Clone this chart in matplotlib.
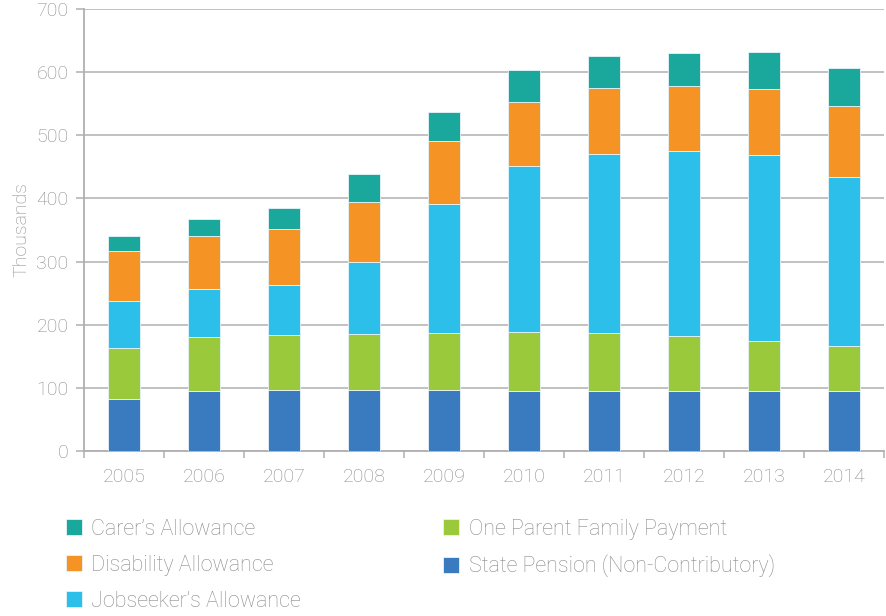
import matplotlib
matplotlib.use("Agg")
import matplotlib.pyplot as plt
import numpy as np

years = ["2005", "2006", "2007", "2008", "2009", "2010", "2011", "2012", "2013", "2014"]
state_pension = [83, 95.5, 97, 97, 97, 95.5, 95.5, 95.5, 95.5, 95.5]
one_parent = [80.5, 84.5, 86, 88, 89.5, 93.5, 91.5, 86.5, 78.5, 70]
jobseekers = [74.5, 77, 80, 114, 205, 262, 283, 293.5, 295, 269]
disability = [78, 83, 89, 95.5, 100, 102, 105, 102, 105, 112.5]
carers = [25, 27, 33.5, 44.5, 46, 51, 50.5, 52.5, 58, 59.5]

series = [
    ("State Pension (Non-Contributory)", state_pension, "#3a7bbf"),
    ("One Parent Family Payment", one_parent, "#9bc93c"),
    ("Jobseeker\u2019s Allowance", jobseekers, "#2bbfe9"),
    ("Disability Allowance", disability, "#f59324"),
    ("Carer\u2019s Allowance", carers, "#1aa89c"),
]

TXT = "#8a8a8a"
GRID = "#b0b0b0"
plt.rcParams["font.family"] = ["Roboto", "DejaVu Sans"]

fig = plt.figure(figsize=(8.86, 6.16), dpi=100)
ax = fig.add_axes([84 / 886, 1 - 451 / 616, 800 / 886, 442 / 616])

x = np.arange(len(years))
bottom = np.zeros(len(years))
handles = {}
for name, vals, col in series:
    b = ax.bar(x, vals, 0.4, bottom=bottom, color=col, edgecolor="#e8f4f8",
               linewidth=0.6, label=name, zorder=3)
    handles[name] = b
    bottom += np.array(vals)

ax.set_xlim(-0.5, 9.5)
ax.set_ylim(0, 700)
ax.set_yticks(range(0, 701, 100))
ax.yaxis.grid(True, color=GRID, lw=1.1, zorder=0)
ax.set_axisbelow(True)

ax.set_xticks(x)
ax.set_xticklabels(years)
ax.set_xticks(np.arange(-0.5, 10, 1), minor=True)
ax.tick_params(axis="x", which="major", length=0, pad=12, labelsize=14,
               labelcolor=TXT)
ax.tick_params(axis="x", which="minor", length=5, color=GRID, width=1.1)
ax.tick_params(axis="y", length=6, color=GRID, width=1.1, labelsize=14,
               labelcolor=TXT, pad=5)
for lbl in ax.get_xticklabels() + ax.get_yticklabels():
    lbl.set_fontweight("light")

for s in ["top", "right"]:
    ax.spines[s].set_visible(False)
for s in ["left", "bottom"]:
    ax.spines[s].set_color(GRID)
    ax.spines[s].set_linewidth(1.3)

ax.set_ylabel("Thousands", color=TXT, fontsize=14, fontweight="light", labelpad=4)

order = ["Carer\u2019s Allowance", "Disability Allowance", "Jobseeker\u2019s Allowance",
         "One Parent Family Payment", "State Pension (Non-Contributory)"]
leg = fig.legend([handles[n] for n in order], order, ncol=2, loc="upper left",
                 bbox_to_anchor=(57 / 886, 1 - 510 / 616), frameon=False,
                 fontsize=15.5, handlelength=0.75, handleheight=0.75,
                 handletextpad=0.45, columnspacing=6.6, labelspacing=0.7,
                 borderaxespad=0)
for t in leg.get_texts():
    t.set_color(TXT)
    t.set_fontweight("light")

fig.savefig("out.png", dpi=100)
